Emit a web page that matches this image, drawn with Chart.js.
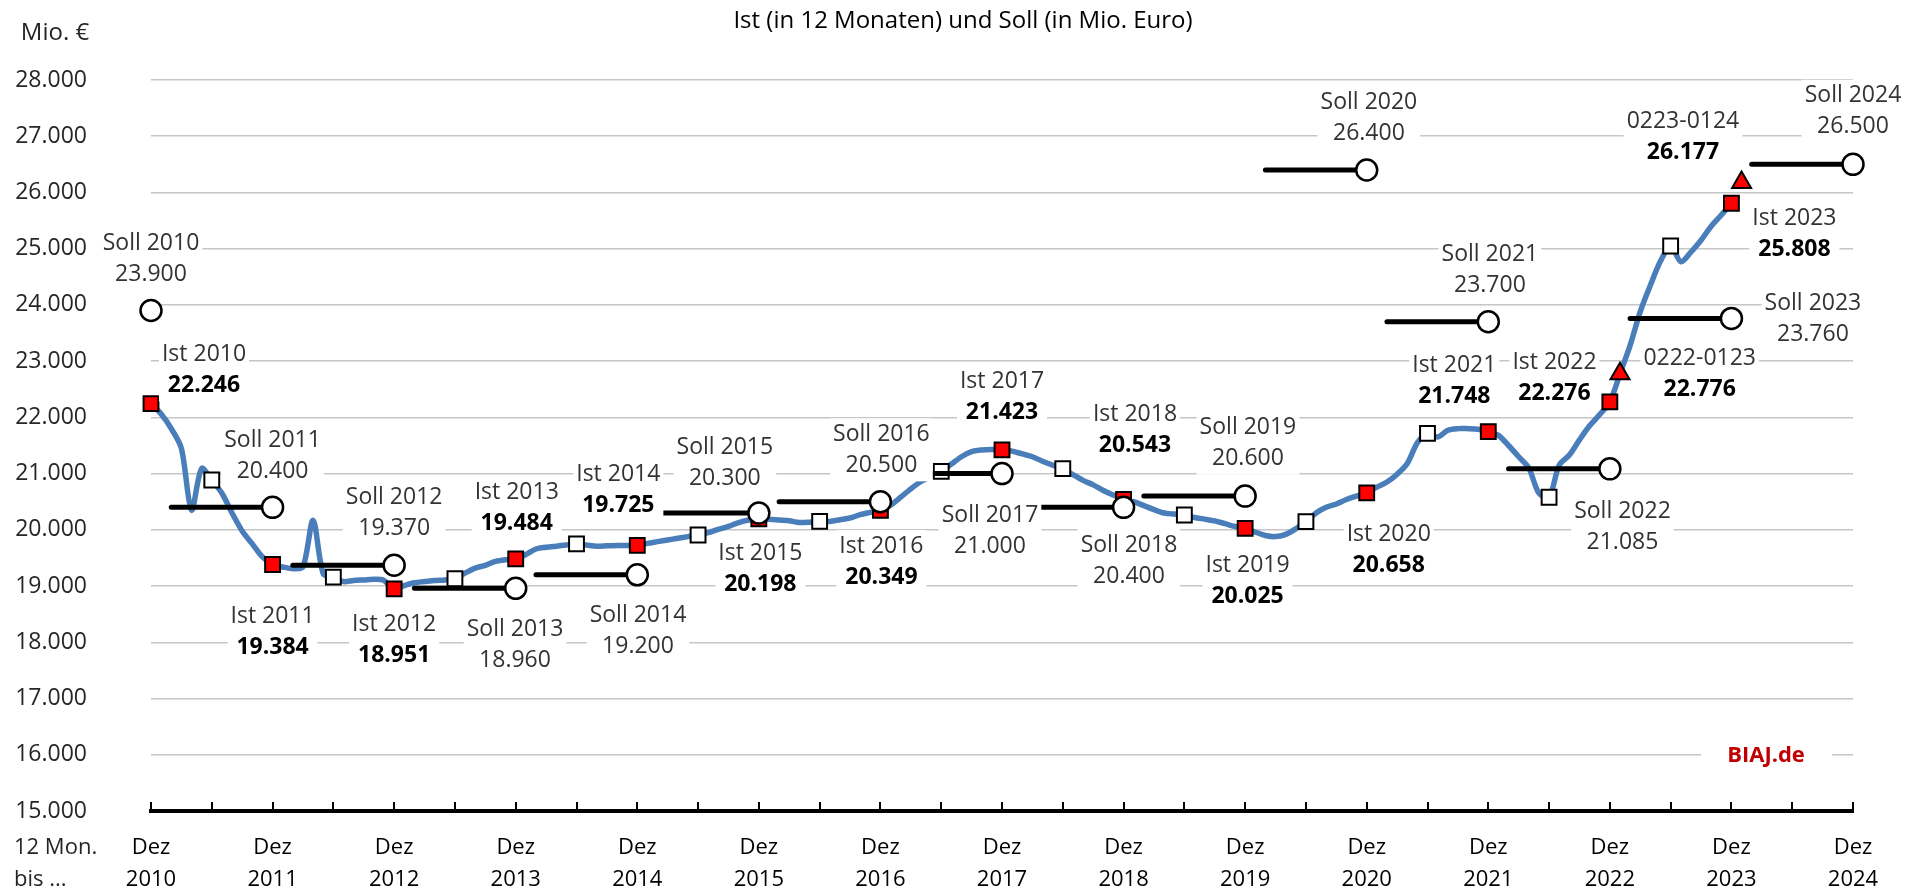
<!DOCTYPE html>
<html><head><meta charset="utf-8">
<script src="https://cdn.jsdelivr.net/npm/chart.js@4/dist/chart.umd.min.js"></script>
<style>html,body{margin:0;padding:0;background:#fff;overflow:hidden}canvas{display:block}</style>
</head><body>
<canvas id="c" width="1924" height="891"></canvas>
<script>
// ---------- DATA ----------
const chartTitle = 'Ist (in 12 Monaten) und Soll (in Mio. Euro)';
const yUnit = 'Mio. €';
const xAxisNote = ['12 Mon.', 'bis ...'];
const sourceText = 'BIAJ.de';
const tickMonth = 'Dez';
const tickYears = ['2010','2011','2012','2013','2014','2015','2016','2017','2018','2019','2020','2021','2022','2023','2024'];
// 12-month rolling sums, monthly from Dez 2010 to Dez 2023
const istMonthly = [
 22246,22060,21800,21450,20350,21090,20886,20650,20300,19980,19750,19520,
 19384,19340,19310,19340,20170,19220,19160,19080,19100,19110,19120,19100,
 18951,19010,19060,19080,19100,19110,19130,19230,19320,19370,19440,19470,
 19484,19560,19660,19690,19710,19730,19750,19730,19710,19715,19720,19722,
 19725,19760,19790,19820,19850,19880,19908,19950,20010,20060,20130,20175,
 20198,20190,20175,20160,20130,20135,20150,20150,20180,20210,20270,20310,
 20349,20440,20580,20730,20860,20950,21040,21170,21300,21390,21420,21430,
 21423,21400,21350,21300,21220,21150,21090,20980,20880,20800,20700,20620,
 20543,20500,20430,20360,20300,20280,20264,20220,20190,20160,20110,20060,
 20025,19960,19900,19880,19920,20020,20145,20300,20400,20460,20540,20600,
 20658,20760,20850,20990,21180,21550,21716,21650,21770,21800,21800,21790,
 21748,21680,21500,21300,21100,20650,20580,21150,21330,21600,21850,22050,
 22276,22776,23280,23880,24350,24780,25048,24770,24940,25150,25400,25600,
 25808
];
const istYears = [2010,2011,2012,2013,2014,2015,2016,2017,2018,2019,2020,2021,2022,2023];
const sollYears = [2010,2011,2012,2013,2014,2015,2016,2017,2018,2019,2020,2021,2022,2023,2024];
const sollValues = [23900,20400,19370,18960,19200,20300,20500,21000,20400,20600,26400,23700,21085,23760,26500];
const rollingLabels = ['0222-0123','0223-0124'];
const rollingMonths = [145,157];   // Jan 2023, Jan 2024 (months after Dez 2010)
const rollingValues = [22776,26177];

// ---------- STYLE (label offsets in px from their marker) ----------
const istLabelOffsets = [[53,-49],[0,51.5],[0,36],[1,-66.6],[-19,-71.3],[1.5,34.6],[1,35.8],[0,-68],[11.4,-85],[2.4,36.6],[22,41.5],[-34,-66.6],[-55.4,-39.6],[63,15]];
const sollLabelOffsets = [[0,-67.2],[0,-66.7],[0,-68],[-0.7,41],[0.7,41],[-34,-65.3],[1,-67.4],[-12,41.4],[5.4,37.6],[2.8,-68.4],[2.2,-67.7],[1.6,-67.5],[12.6,42.2],[81.5,-15],[0,-68.6]];
const rollingLabelOffsets = [[79.7,-14.8],[-58.6,-60.8]];

const FAM = "'Open Sans'";
const LBL = 23, LINE = 31;
const fmt = v => String(v).replace(/\B(?=(\d{3})+(?!\d))/g, '.');

Chart.defaults.font.family = FAM;

// ---------- DATASETS ----------
const blue = '#4A7EBB';
const datasets = [];
datasets.push({
  data: istMonthly.map((v,i)=>({x:i,y:v})),
  borderColor: blue, borderWidth: 5.5, pointRadius: 0, tension: 0.3, clip:false,
  borderCapStyle:'round', borderJoinStyle:'round', order: 4
});
const june = [];
for (let m = 6; m < istMonthly.length; m += 12) june.push({x:m, y:istMonthly[m]});
datasets.push({
  data: june, showLine:false, pointStyle:'rect', pointRadius:10.5, clip:false,
  pointBackgroundColor:'#fff', pointBorderColor:'#000', pointBorderWidth:2, order:3
});
datasets.push({
  data: istYears.map((y,k)=>({x:12*k, y:istMonthly[12*k]})), showLine:false, pointStyle:'rect', pointRadius:10.5, clip:false,
  pointBackgroundColor:'#FF0000', pointBorderColor:'#000', pointBorderWidth:2, order:3
});
datasets.push({
  data: rollingValues.map((v,i)=>({x:rollingMonths[i], y:v})), showLine:false, pointStyle:'triangle', pointRadius:11, clip:false,
  pointBackgroundColor:'#FF0000', pointBorderColor:'#000', pointBorderWidth:2, order:3
});
sollValues.forEach((v,k)=>{
  const pts = [];
  if (k === 0) pts.push({x:0,y:v});
  else for (let m = 12*(k-1)+2; m <= 12*k; m++) pts.push({x:m,y:v});
  datasets.push({
    data: pts, borderColor:'#000', borderWidth:5, borderCapStyle:'round', clip:false,
    pointRadius: c => c.dataIndex === c.dataset.data.length-1 ? 10.5 : 0,
    pointBackgroundColor:'#fff', pointBorderColor:'#000', pointBorderWidth:2.5, order:1
  });
});

// ---------- LABELS ----------
const labels = [];
istYears.forEach((yr,k)=>labels.push({mx:12*k, v:istMonthly[12*k], off:istLabelOffsets[k], lines:['Ist '+yr, fmt(istMonthly[12*k])], bold:true}));
sollYears.forEach((yr,k)=>labels.push({mx:12*k, v:sollValues[k], off:sollLabelOffsets[k], lines:['Soll '+yr, fmt(sollValues[k])], bold:false}));
rollingLabels.forEach((t,i)=>labels.push({mx:rollingMonths[i], v:rollingValues[i], off:rollingLabelOffsets[i], lines:[t, fmt(rollingValues[i])], bold:true}));

const annot = {
  id:'annot',
  afterDatasetsDraw(chart){
    const {ctx, scales:{x,y}} = chart;
    ctx.save();
    ctx.textAlign = 'center'; ctx.textBaseline = 'middle';
    labels.forEach(l=>{
      const px = x.getPixelForValue(l.mx) + l.off[0];
      const py = y.getPixelForValue(l.v) + l.off[1];
      const f1 = `${LBL}px ${FAM}`, f2 = (l.bold?'bold ':'') + `${LBL}px ${FAM}`;
      ctx.font = f1; const w1 = ctx.measureText(l.lines[0]).width;
      ctx.font = f2; const w2 = ctx.measureText(l.lines[1]).width;
      const w = Math.max(w1,w2) + 6;
      ctx.fillStyle = '#fff';
      ctx.fillRect(px - w/2, py - 16, w, LINE + 32);
      ctx.font = f1; ctx.fillStyle = '#333';
      ctx.fillText(l.lines[0], px, py);
      ctx.font = f2; ctx.fillStyle = l.bold ? '#000' : '#333';
      ctx.fillText(l.lines[1], px, py + LINE);
    });
    // source
    ctx.fillStyle = '#fff';
    ctx.fillRect(1701, 740, 131, 32);
    ctx.font = `bold 22px ${FAM}`; ctx.fillStyle = '#C00000';
    ctx.fillText(sourceText, 1766, 756);
    ctx.restore();
  },
  afterDraw(chart){
    const {ctx, scales:{x,y}} = chart;
    ctx.save();
    // upward tick marks on the x axis
    ctx.strokeStyle = '#000'; ctx.lineWidth = 2;
    const yb = y.getPixelForValue(15000);
    for (let m = 0; m <= 168; m += 6) {
      const px = Math.round(x.getPixelForValue(m));
      ctx.beginPath(); ctx.moveTo(px, yb); ctx.lineTo(px, yb - 9); ctx.stroke();
    }
    ctx.textBaseline = 'middle';
    ctx.textAlign = 'center'; ctx.fillStyle = '#000';
    ctx.font = `24px ${FAM}`;
    ctx.fillText(chartTitle, 963, 21);
    ctx.font = `24px ${FAM}`; ctx.fillStyle = '#262626';
    ctx.fillText(yUnit, 55, 33);
    ctx.font = `22px ${FAM}`;
    ctx.textAlign = 'left';
    ctx.fillText(xAxisNote[0], 14, 848);
    ctx.fillText(xAxisNote[1], 14, 880);
    ctx.restore();
  }
};

new Chart(document.getElementById('c'), {
  type:'line',
  data:{datasets},
  options:{
    responsive:false, animation:false,
    layout:{padding:{top:80,right:71,bottom:0,left:0}},
    plugins:{legend:{display:false}, tooltip:{enabled:false}, title:{display:false}},
    scales:{
      x:{
        type:'linear', min:0, max:168,
        afterFit: s => { s.height = 80; },
        grid:{display:false, drawTicks:false},
        border:{display:true, color:'#000', width:4},
        ticks:{
          stepSize:6, autoSkip:false, maxRotation:0, padding:21, color:'#000',
          font:{size:22, lineHeight:'32px'},
          callback: v => (v % 12 === 0) ? [tickMonth, tickYears[v/12]] : ''
        }
      },
      y:{
        min:15000, max:28000,
        afterFit: s => { s.width = 151; },
        border:{display:false},
        grid:{color: c => c.tick && c.tick.value === 15000 ? 'rgba(0,0,0,0)' : '#C6C6C6', lineWidth:1.5, drawTicks:false},
        ticks:{stepSize:1000, padding:64, color:'#262626', font:{size:23}, callback: v => fmt(v)}
      }
    }
  },
  plugins:[annot]
});
</script>
</body></html>
